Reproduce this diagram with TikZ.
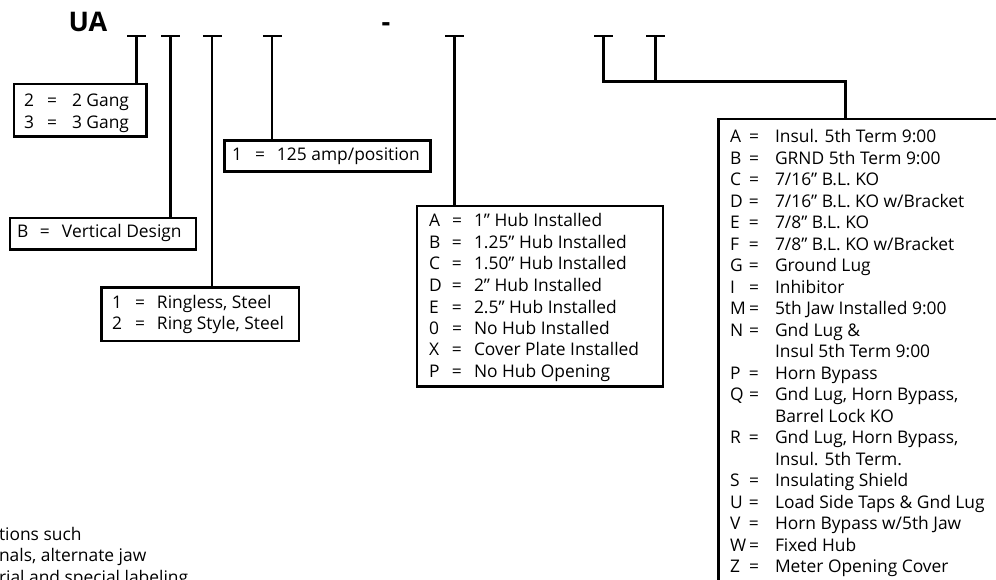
\documentclass[tikz,border=0pt]{standalone}
\usepackage{fontspec}
\setmainfont{Open Sans}
\usetikzlibrary{calc}
\newcommand\bigent[2]{\hbox{\makebox[19pt][l]{#1}\makebox[26pt][l]{=}#2}}
\newcommand\bigcont[1]{\hbox{\hspace*{45pt}#1}}
\newcommand\smlent[3][22]{\hbox{\makebox[23pt][l]{#2}\makebox[#1pt][l]{=}#3}}
\begin{document}
\begin{tikzpicture}[x=1pt,y=-1pt,
  wire/.style={line width=2.5pt},
  box/.style={draw, line width=2.5pt, inner sep=0pt, outer sep=0pt, anchor=north west},
  txt/.style={inner sep=0pt, outer sep=0pt, anchor=base west, font=\fontsize{17.4}{21.5}\selectfont},
  title/.style={inner sep=0pt, outer sep=0pt, font=\fontsize{27}{32}\selectfont\bfseries}]
\useasboundingbox (0,0) rectangle (996,580);
\clip (0,0) rectangle (996,580);

\node[title, anchor=base west] (ua) at (68.5,31.5) {UA};
\node[title, anchor=base] (dash) at (386,31.5) {-};

\foreach \n/\x in {1/136.3,2/170.3,3/212.2,4/272.2,5/454.7,6/603.5,7/655.3}
  \coordinate (p\n) at (\x,36);
\foreach \n in {1,...,7}
  \draw[wire] ($(p\n)+(-9.3,0)$) -- ($(p\n)+(9.3,0)$);

% boxes
\node[box, minimum width=132.5pt, minimum height=52.5pt] (b1) at (13.8,83.8) {};
\node[box, minimum width=185.8pt, minimum height=31.7pt] (b2) at (10,218) {};
\node[box, minimum width=197.9pt, minimum height=53.5pt] (b3) at (101.3,287.5) {};
\node[box, minimum width=206pt, minimum height=31pt] (b4) at (224.7,140.3) {};
\node[box, minimum width=246pt, minimum height=180.3pt] (b5) at (417,206) {};
\node[box, minimum width=300pt, minimum height=480pt] (b6) at (718.7,119) {};

% connectors
\draw[wire] (p1) -- (p1 |- b1.north);
\draw[wire] (p2) -- (p2 |- b2.north);
\draw[wire] (p3) -- (p3 |- b3.north);
\draw[wire] (p4) -- (p4 |- b4.north);
\draw[wire] (p5) -- (p5 |- b5.north);
\coordinate (k) at (845.3,81.3);
\draw[wire] (p6) |- (k) -- (k |- b6.north);
\draw[wire] (p7) -- (p7 |- k);

% texts
\node[txt] (t1) at (24,107) {\vtop{\smlent[25]{2}{2 Gang}\smlent[25]{3}{3 Gang}}};
\node[txt] (t2) at (17,238) {\vtop{\smlent{B}{Vertical Design}}};
\node[txt] (t3) at (112,308) {\vtop{\smlent{1}{Ringless, Steel}\smlent{2}{Ring Style, Steel}}};
\node[txt] (t4) at (232,160.7) {\vtop{\smlent{1}{125 amp/position}}};
\node[txt] (t5) at (429,227) {\vtop{%
  \smlent{A}{1” Hub Installed}%
  \smlent{B}{1.25” Hub Installed}%
  \smlent{C}{1.50” Hub Installed}%
  \smlent{D}{2” Hub Installed}%
  \smlent{E}{2.5” Hub Installed}%
  \smlent{0}{No Hub Installed}%
  \smlent{X}{Cover Plate Installed}%
  \smlent{P}{No Hub Opening}}};
\node[txt] (t6) at (730,143) {\vtop{%
  \bigent{A}{Insul. 5th Term 9:00}%
  \bigent{B}{GRND 5th Term 9:00}%
  \bigent{C}{7/16” B.L. KO}%
  \bigent{D}{7/16” B.L. KO w/Bracket}%
  \bigent{E}{7/8” B.L. KO}%
  \bigent{F}{7/8” B.L. KO w/Bracket}%
  \bigent{G}{Ground Lug}%
  \bigent{I}{Inhibitor}%
  \bigent{M}{5th Jaw Installed 9:00}%
  \bigent{N}{Gnd Lug \&}%
  \bigcont{Insul 5th Term 9:00}%
  \bigent{P}{Horn Bypass}%
  \bigent{Q}{Gnd Lug, Horn Bypass,}%
  \bigcont{Barrel Lock KO}%
  \bigent{R}{Gnd Lug, Horn Bypass,}%
  \bigcont{Insul. 5th Term.}%
  \bigent{S}{Insulating Shield}%
  \bigent{U}{Load Side Taps \& Gnd Lug}%
  \bigent{V}{Horn Bypass w/5th Jaw}%
  \bigent{W}{Fixed Hub}%
  \bigent{Z}{Meter Opening Cover}}};

% clipped note fragments (cut at the picture's edges, as in the reference)
\node[txt] (n1) at (-1,540) {tions such};
\node[txt] (n2) at (-1,561.5) {nals, alternate jaw};
\node[txt] (n3) at (-1,583) {rial and special labeling};
\end{tikzpicture}
\end{document}
